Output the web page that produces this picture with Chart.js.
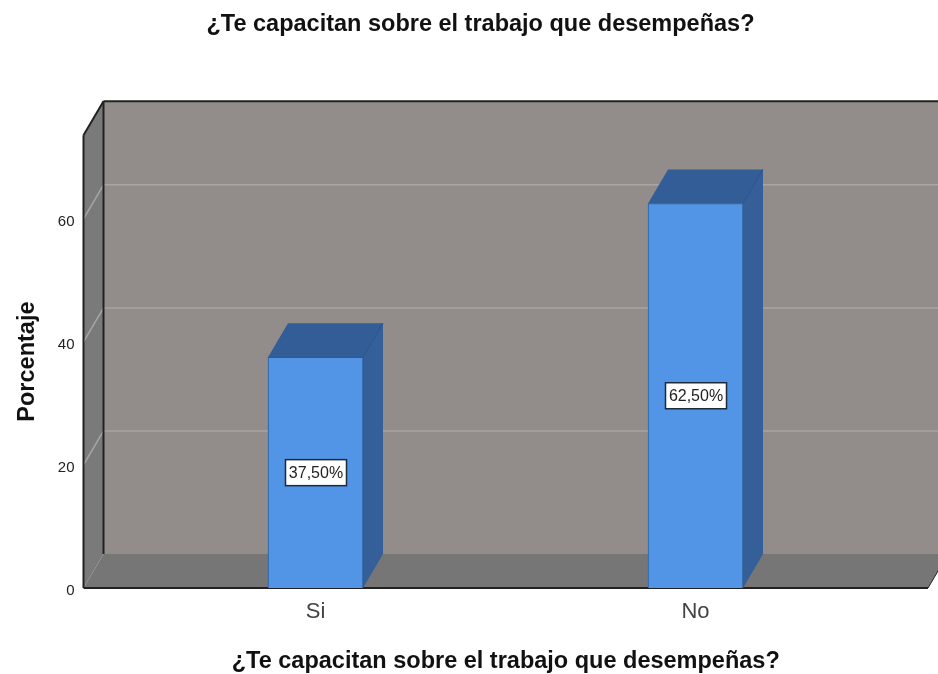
<!DOCTYPE html>
<html lang="es">

<head>
    <meta charset="UTF-8">
    <title>¿Te capacitan sobre el trabajo que desempeñas?</title>
    <script src="https://cdn.jsdelivr.net/npm/chart.js"></script>
    <style>
        body {
            margin: 0;
            background: #fff;
        }

        canvas {
            display: block;
        }
    </style>
</head>

<body>
    <canvas id="grafico" width="938" height="674"></canvas>

    <script>
        // Datos
        const categorias = ['Si', 'No'];
        const porcentajes = [37.5, 62.5];
        const posiciones = [0, 1];
        const marcasY = [0, 20, 40, 60];
        const titulo = '¿Te capacitan sobre el trabajo que desempeñas?';
        const tituloY = 'Porcentaje';

        // Profundidad del falso 3D, en pixeles
        const fondoX = 20;
        const fondoY = 34;
        const fuente = "'Liberation Sans', Arial, sans-serif";

        function poligono(ctx, puntos, color) {
            ctx.fillStyle = color;
            ctx.beginPath();
            puntos.forEach((p, i) => i ? ctx.lineTo(p[0], p[1]) : ctx.moveTo(p[0], p[1]));
            ctx.closePath();
            ctx.fill();
        }

        function linea(ctx, x1, y1, x2, y2, color, ancho) {
            ctx.strokeStyle = color;
            ctx.lineWidth = ancho;
            ctx.beginPath();
            ctx.moveTo(x1, y1);
            ctx.lineTo(x2, y2);
            ctx.stroke();
        }

        const caja3d = {
            id: 'caja3d',
            afterLayout(chart) {
                // el titulo no esta centrado en la imagen original
                chart.titleBlock.left = 33;
            },
            beforeDatasetsDraw(chart) {
                const { ctx, chartArea: a, scales } = chart;
                ctx.save();

                // paredes y suelo
                poligono(ctx, [[a.left + fondoX, a.top - fondoY], [a.right + fondoX, a.top - fondoY],
                    [a.right + fondoX, a.bottom - fondoY], [a.left + fondoX, a.bottom - fondoY]], '#928d8b');
                poligono(ctx, [[a.left, a.top], [a.left + fondoX, a.top - fondoY],
                    [a.left + fondoX, a.bottom - fondoY], [a.left, a.bottom]], '#7b7a7a');
                poligono(ctx, [[a.left, a.bottom], [a.left + fondoX, a.bottom - fondoY],
                    [a.right + fondoX, a.bottom - fondoY], [a.right, a.bottom]], '#777676');

                // rejilla sobre las paredes
                marcasY.slice(1).forEach(v => {
                    const y = scales.y.getPixelForValue(v);
                    linea(ctx, a.left, y, a.left + fondoX, y - fondoY, '#a8a5a4', 1.5);
                    linea(ctx, a.left + fondoX, y - fondoY, a.right + fondoX, y - fondoY, '#a8a5a4', 1.5);
                });

                // bordes
                linea(ctx, a.left, a.top, a.left, a.bottom, '#222', 2);
                linea(ctx, a.left, a.top, a.left + fondoX, a.top - fondoY, '#222', 2);
                linea(ctx, a.left + fondoX, a.top - fondoY, a.right + fondoX, a.top - fondoY, '#222', 2);
                linea(ctx, a.left + fondoX, a.top - fondoY, a.left + fondoX, a.bottom - fondoY, '#222', 2);
                linea(ctx, a.left, a.bottom, a.right, a.bottom, '#222', 2);
                linea(ctx, a.right, a.bottom, a.right + fondoX, a.bottom - fondoY, '#222', 1);

                // cara lateral y superior de las barras
                chart.getDatasetMeta(0).data.forEach(b => {
                    const izq = b.x - b.width / 2;
                    const der = b.x + b.width / 2;
                    poligono(ctx, [[der, b.y], [der + fondoX, b.y - fondoY], [der + fondoX, b.base - fondoY], [der, b.base]], '#345f98');
                    poligono(ctx, [[izq, b.y], [izq + fondoX, b.y - fondoY], [der + fondoX, b.y - fondoY], [der, b.y]], '#325d96');
                    linea(ctx, der, b.y, der + fondoX, b.y - fondoY, '#2a5488', 1);
                });
                ctx.restore();
            },
            afterDatasetsDraw(chart) {
                const { ctx } = chart;
                ctx.save();
                ctx.font = '16px ' + fuente;
                ctx.textAlign = 'center';
                ctx.textBaseline = 'middle';
                chart.getDatasetMeta(0).data.forEach((b, i) => {
                    const y = (b.y + b.base) / 2;
                    const texto = porcentajes[i].toFixed(2).replace('.', ',') + '%';
                    ctx.fillStyle = '#fff';
                    ctx.strokeStyle = '#1c2a3a';
                    ctx.lineWidth = 1.5;
                    ctx.fillRect(b.x - 30, y - 13, 61, 26);
                    ctx.strokeRect(b.x - 30, y - 13, 61, 26);
                    ctx.fillStyle = '#222';
                    ctx.fillText(texto, b.x + 0.5, y + 1);
                });
                ctx.restore();
            }
        };

        new Chart(document.getElementById('grafico'), {
            type: 'bar',
            data: {
                datasets: [{
                    data: posiciones.map((p, i) => ({ x: p, y: porcentajes[i] })),
                    backgroundColor: '#5294e6',
                    borderColor: '#2b5d92',
                    borderWidth: 1,
                    barThickness: 95
                }]
            },
            options: {
                responsive: false,
                animation: false,
                layout: { padding: { right: 10 } },
                plugins: {
                    legend: { display: false },
                    tooltip: { enabled: false },
                    title: {
                        display: true,
                        text: titulo,
                        color: '#111',
                        font: { family: fuente, size: 23.5, weight: 'bold' },
                        padding: { top: 10, bottom: 97 }
                    }
                },
                scales: {
                    x: {
                        type: 'linear',
                        offset: false,
                        min: -0.6105,
                        max: 1.6118,
                        afterFit: s => { s.height = 86; },
                        afterBuildTicks: s => { s.ticks = posiciones.map(v => ({ value: v })); },
                        grid: { display: false, drawTicks: false },
                        border: { display: false },
                        ticks: {
                            color: '#444',
                            padding: 11,
                            autoSkip: false,
                            maxRotation: 0,
                            font: { family: fuente, size: 22 },
                            callback: v => categorias[v]
                        },
                        title: {
                            display: true,
                            text: titulo,
                            color: '#111',
                            font: { family: fuente, size: 23.5, weight: 'bold' },
                            padding: { top: 0, bottom: -2 }
                        }
                    },
                    y: {
                        min: 0,
                        max: 73.6,
                        afterFit: s => { s.width = 83.5; },
                        afterBuildTicks: s => { s.ticks = marcasY.map(v => ({ value: v })); },
                        grid: { display: false, drawTicks: false },
                        border: { display: false },
                        ticks: {
                            color: '#222',
                            padding: 9,
                            labelOffset: 3,
                            font: { family: fuente, size: 15 }
                        },
                        title: {
                            display: true,
                            text: tituloY,
                            color: '#111',
                            font: { family: fuente, size: 23.5, weight: 'bold' },
                            padding: { top: 13, bottom: 0 }
                        }
                    }
                }
            },
            plugins: [caja3d]
        });
    </script>
</body>

</html>
